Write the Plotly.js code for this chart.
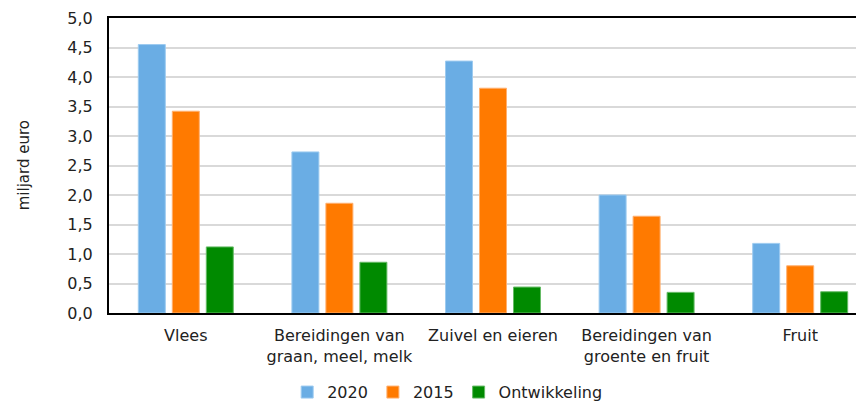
<!DOCTYPE html>
<html>
<head>
<meta charset="utf-8">
<script src="https://cdn.plot.ly/plotly-3.0.1.min.js"></script>
<style>
  html, body { margin: 0; padding: 0; overflow: hidden; background: #fff; }
  #chart { width: 877px; height: 401px; }
</style>
</head>
<body>
<div id="chart"></div>
<script>
const categories = [
  "Vlees",
  "Bereidingen van<br>graan, meel, melk",
  "Zuivel en eieren",
  "Bereidingen van<br>groente en fruit",
  "Fruit"
];
const values2020 = [4.55, 2.73, 4.27, 2.00, 1.18];
const values2015 = [3.42, 1.86, 3.81, 1.64, 0.80];
const valuesOntwikkeling = [1.12, 0.86, 0.44, 0.35, 0.36];
const seriesNames = ["2020", "2015", "Ontwikkeling"];
const yTicks = [0, 0.5, 1, 1.5, 2, 2.5, 3, 3.5, 4, 4.5, 5];
const yTitle = "miljard euro";

const FONT = "DejaVu Sans, Verdana, sans-serif";
const TXT = "#222";

const traces = [
  { name: seriesNames[0], y: values2020, color: "#6AADE4", line: "#9DCBF0" },
  { name: seriesNames[1], y: values2015, color: "#FF7A00", line: "#FFB070" },
  { name: seriesNames[2], y: valuesOntwikkeling, color: "#008A00", line: "#66BB66" }
].map(s => ({
  type: "bar",
  name: s.name,
  x: categories,
  y: s.y,
  marker: { color: s.color, line: { color: s.line, width: 1 } },
  hoverinfo: "x+y+name"
}));

const layout = {
  width: 877,
  height: 401,
  margin: { l: 109, r: 0, t: 18, b: 87.5, autoexpand: false },
  paper_bgcolor: "#fff",
  plot_bgcolor: "#fff",
  font: { family: FONT, size: 16, color: TXT },
  separators: ",.",
  barmode: "group",
  bargap: 0.336,
  bargroupgap: 0.206,
  showlegend: true,
  legend: {
    orientation: "h",
    x: 0.232,
    xanchor: "left",
    yref: "container",
    y: 0.022,
    yanchor: "middle",
    font: { family: FONT, size: 16, color: TXT },
    itemwidth: 30,
    tracegroupgap: 0
  },
  xaxis: {
    type: "category",
    showline: true,
    linecolor: "#000",
    linewidth: 2,
    mirror: true,
    ticks: "",
    ticklabelstandoff: 7,
    showgrid: false,
    tickfont: { family: FONT, size: 16, color: TXT },
    automargin: false,
    fixedrange: true
  },
  yaxis: {
    range: [0, 5],
    tickvals: yTicks,
    tickformat: ".1f",
    showline: true,
    linecolor: "#000",
    linewidth: 2,
    ticks: "",
    ticklabelstandoff: 11,
    showgrid: true,
    gridcolor: "#D9D9D9",
    gridwidth: 2,
    zeroline: false,
    tickfont: { family: FONT, size: 16, color: TXT },
    automargin: false,
    fixedrange: true
  },
  annotations: [{
    text: yTitle,
    xref: "paper", yref: "paper",
    x: -0.111, y: 0.5,
    xanchor: "center", yanchor: "middle",
    textangle: -90,
    showarrow: false,
    font: { family: FONT, size: 15, color: TXT }
  }]
};

Plotly.newPlot("chart", traces, layout, { displayModeBar: false, staticPlot: true });
</script>
</body>
</html>
